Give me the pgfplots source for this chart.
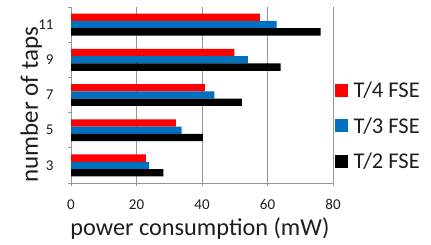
\documentclass[border=0pt]{standalone}
\usepackage{fontspec}
\setmainfont{Carlito}
\usepackage{pgfplots}
\pgfplotsset{compat=1.18}
\definecolor{tred}{RGB}{255,0,0}
\definecolor{tblue}{RGB}{0,112,192}
\definecolor{gridc}{RGB}{150,150,150}
\definecolor{txt}{RGB}{30,30,30}
\begin{document}
\begin{tikzpicture}
\begin{axis}[
  scale only axis, width=262bp, height=176bp,
  xbar, bar width=7.3bp,
  xmin=0, xmax=80, ymin=-0.5, ymax=4.5,
  axis lines*=left,
  axis line style={gridc, line width=0.8pt},
  xtick={0,20,40,60,80}, xmajorgrids,
  grid style={gridc, line width=0.8pt},
  ytick={-0.5,0.5,1.5,2.5,3.5,4.5},
  y tick label as interval,
  yticklabels={3,5,7,9,11},
  tick align=outside, major tick length=3bp,
  tick style={gridc, line width=0.8pt},
  /pgf/number format/assume math mode=true,
  ticklabel style={font=\fontsize{15bp}{17bp}\selectfont, text=txt},
  yticklabel style={xshift=-11bp},
  xticklabel style={yshift=-10bp},
  xlabel={power consumption (mW)},
  ylabel={number of taps},
  xlabel style={at={(axis description cs:0.492,-0.261)}, anchor=center, font=\fontsize{24.3bp}{27bp}\selectfont, text=txt},
  ylabel style={at={(axis description cs:-0.152,0.445)}, anchor=center, font=\fontsize{25bp}{28bp}\selectfont, text=txt},
  legend style={at={(axis description cs:1.005,0.324)}, anchor=west, draw=none, fill=none,
    font=\fontsize{22.5bp}{25bp}\selectfont, text=txt, inner sep=0pt, row sep=14bp, column sep=0pt,
    nodes={inner sep=2bp},
    /tikz/every odd column/.append style={column sep=4bp}},
  legend cell align=left,
  legend image code/.code={\fill[#1] (0bp,-6.5bp) rectangle (13bp,6.5bp);},
]
\addplot[fill=tred, draw=none, bar shift=7.3bp] coordinates {(22.9,0) (32.0,1) (40.9,2) (49.9,3) (57.7,4)};
\addplot[fill=tblue, draw=none, bar shift=0bp] coordinates {(23.8,0) (33.8,1) (43.8,2) (54.0,3) (62.8,4)};
\addplot[fill=black, draw=none, bar shift=-7.3bp] coordinates {(28.2,0) (40.3,1) (52.2,2) (64.0,3) (76.2,4)};
\legend{T/4 FSE, T/3 FSE, T/2 FSE}
\end{axis}
\pgfresetboundingbox
\path ([xshift=-71bp,yshift=-61bp]current axis.south west) rectangle ([xshift=98bp,yshift=7bp]current axis.north east);
\end{tikzpicture}
\end{document}
